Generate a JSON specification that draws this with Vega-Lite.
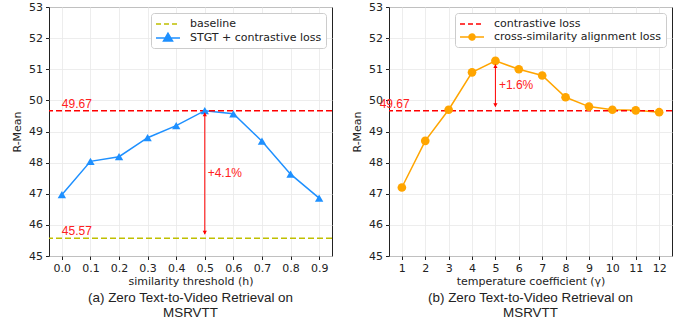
{
  "$schema": "https://vega.github.io/schema/vega-lite/v6.json",
  "padding": {"left": 11, "top": 0, "right": 5, "bottom": 5},
  "bounds": "flush",
  "spacing": 57,
  "resolve": {"scale": {"color": "independent"}, "legend": {"color": "independent"}},
  "config": {
    "font": "DejaVu Sans",
    "view": {"stroke": "#222", "strokeWidth": 1},
    "axis": {
      "gridColor": "#e8e8e8", "gridWidth": 0.8,
      "domain": false, "labelOverlap": false,
      "tickColor": "#222", "tickSize": 3.5,
      "labelFontSize": 11, "labelColor": "#222", "labelPadding": 3,
      "titleFontSize": 11, "titleFontWeight": "normal", "titleColor": "#222"
    },
    "legend": {
      "orient": "top-right", "offset": 6,
      "fillColor": "white", "strokeColor": "#cccccc", "cornerRadius": 3,
      "padding": 4, "rowPadding": 1, "symbolOffset": 6, "labelOffset": 15, "labelLimit": 400,
      "labelFontSize": 11, "labelColor": "#222", "labelFont": "DejaVu Sans",
      "symbolSize": 144, "symbolStrokeWidth": 1.5
    },
    "title": {"font": "Liberation Sans", "fontSize": 13.4, "fontWeight": "normal", "color": "#222", "orient": "bottom", "anchor": "middle", "lineHeight": 15, "offset": 4}
  },
  "datasets": {
    "one": [{"k": 1}],
    "stgt": [
      {"h": 0.0, "r": 46.97}, {"h": 0.1, "r": 48.04}, {"h": 0.2, "r": 48.19},
      {"h": 0.3, "r": 48.8}, {"h": 0.4, "r": 49.19}, {"h": 0.5, "r": 49.67},
      {"h": 0.6, "r": 49.57}, {"h": 0.7, "r": 48.69}, {"h": 0.8, "r": 47.63},
      {"h": 0.9, "r": 46.86}
    ],
    "csa": [
      {"g": 1, "r": 47.2}, {"g": 2, "r": 48.7}, {"g": 3, "r": 49.7},
      {"g": 4, "r": 50.9}, {"g": 5, "r": 51.27}, {"g": 6, "r": 51.0},
      {"g": 7, "r": 50.8}, {"g": 8, "r": 50.1}, {"g": 9, "r": 49.8},
      {"g": 10, "r": 49.7}, {"g": 11, "r": 49.68}, {"g": 12, "r": 49.62}
    ],
    "lblA": [
      {"x": 0.0, "y": 49.76, "t": "49.67"},
      {"x": 0.0, "y": 45.66, "t": "45.57"},
      {"x": 0.51, "y": 47.55, "t": "+4.1%"}
    ],
    "lblB": [
      {"x": 0.05, "y": 49.76, "t": "49.67"},
      {"x": 5.15, "y": 50.38, "t": "+1.6%"}
    ]
  },
  "hconcat": [
    {
      "width": 283, "height": 249,
      "title": {"text": ["(a) Zero Text-to-Video Retrieval on", "MSRVTT"]},
      "layer": [
        {
          "data": {"name": "stgt"},
          "mark": {"type": "line", "strokeWidth": 1.5},
          "encoding": {
            "x": {"field": "h", "type": "quantitative",
              "scale": {"domain": [-0.045, 0.945], "nice": false, "zero": false},
              "axis": {"values": [0, 0.1, 0.2, 0.3, 0.4, 0.5, 0.6, 0.7, 0.8, 0.9], "tickCount": 10, "format": ".1f", "title": "similarity threshold (h)", "titlePadding": 2}},
            "y": {"field": "r", "type": "quantitative",
              "scale": {"domain": [45, 53], "nice": false, "zero": false},
              "axis": {"values": [45, 46, 47, 48, 49, 50, 51, 52, 53], "tickCount": 9, "title": "R-Mean", "titlePadding": 6}},
            "color": {"datum": "STGT + contrastive loss", "type": "nominal",
              "scale": {"domain": ["baseline", "STGT + contrastive loss"], "range": ["#bfbf00", "#1e90ff"]},
              "legend": {"title": null,
                "encode": {"symbols": {"update": {
                  "shape": {"signal": "datum.value === 'baseline' ? 'M-2,0H2' : 'M-2,0H2M0,-0.8L0.75,0.5L-0.75,0.5Z'"},
                  "strokeDash": {"signal": "datum.value === 'baseline' ? [5,3] : [1,0]"},
                  "fill": {"signal": "datum.value === 'baseline' ? 'transparent' : '#1e90ff'"},
                  "fillOpacity": {"value": 1},
                  "stroke": {"signal": "datum.value === 'baseline' ? '#bfbf00' : '#1e90ff'"},
                  "strokeWidth": {"value": 1.5}
                }}}}}
          }
        },
        {
          "data": {"name": "one"},
          "mark": {"type": "rule", "strokeDash": [6, 3], "strokeWidth": 1.5},
          "encoding": {
            "y": {"datum": 45.57, "type": "quantitative",
              "axis": {"values": [45, 46, 47, 48, 49, 50, 51, 52, 53], "tickCount": 9, "title": "R-Mean", "titlePadding": 6}},
            "color": {"datum": "baseline", "type": "nominal"}
          }
        },
        {
          "data": {"name": "one"},
          "mark": {"type": "rule", "strokeDash": [6, 3], "strokeWidth": 1.5, "color": "#ff0000"},
          "encoding": {"y": {"datum": 49.67, "type": "quantitative",
              "axis": {"values": [45, 46, 47, 48, 49, 50, 51, 52, 53], "tickCount": 9, "title": "R-Mean", "titlePadding": 6}}}
        },
        {
          "data": {"name": "stgt"},
          "mark": {"type": "point", "shape": "triangle-up", "filled": true, "size": 70, "opacity": 1},
          "encoding": {
            "x": {"field": "h", "type": "quantitative",
              "axis": {"values": [0, 0.1, 0.2, 0.3, 0.4, 0.5, 0.6, 0.7, 0.8, 0.9], "tickCount": 10, "format": ".1f", "title": "similarity threshold (h)", "titlePadding": 2}},
            "y": {"field": "r", "type": "quantitative",
              "axis": {"values": [45, 46, 47, 48, 49, 50, 51, 52, 53], "tickCount": 9, "title": "R-Mean", "titlePadding": 6}},
            "color": {"datum": "STGT + contrastive loss", "type": "nominal"}
          }
        },
        {
          "data": {"name": "one"},
          "mark": {"type": "rule", "color": "#ff0000", "strokeWidth": 1},
          "encoding": {
            "x": {"datum": 0.5, "type": "quantitative",
              "axis": {"values": [0, 0.1, 0.2, 0.3, 0.4, 0.5, 0.6, 0.7, 0.8, 0.9], "tickCount": 10, "format": ".1f", "title": "similarity threshold (h)", "titlePadding": 2}},
            "y": {"datum": 45.7, "type": "quantitative",
              "axis": {"values": [45, 46, 47, 48, 49, 50, 51, 52, 53], "tickCount": 9, "title": "R-Mean", "titlePadding": 6}},
            "y2": {"datum": 49.6}
          }
        },
        {
          "data": {"name": "one"},
          "mark": {"type": "point", "shape": "triangle-up", "filled": true, "size": 18, "color": "#ff0000", "opacity": 1},
          "encoding": {
            "x": {"datum": 0.5, "type": "quantitative",
              "axis": {"values": [0, 0.1, 0.2, 0.3, 0.4, 0.5, 0.6, 0.7, 0.8, 0.9], "tickCount": 10, "format": ".1f", "title": "similarity threshold (h)", "titlePadding": 2}},
            "y": {"datum": 49.55, "type": "quantitative",
              "axis": {"values": [45, 46, 47, 48, 49, 50, 51, 52, 53], "tickCount": 9, "title": "R-Mean", "titlePadding": 6}}}
        },
        {
          "data": {"name": "one"},
          "mark": {"type": "point", "shape": "triangle-down", "filled": true, "size": 18, "color": "#ff0000", "opacity": 1},
          "encoding": {
            "x": {"datum": 0.5, "type": "quantitative",
              "axis": {"values": [0, 0.1, 0.2, 0.3, 0.4, 0.5, 0.6, 0.7, 0.8, 0.9], "tickCount": 10, "format": ".1f", "title": "similarity threshold (h)", "titlePadding": 2}},
            "y": {"datum": 45.75, "type": "quantitative",
              "axis": {"values": [45, 46, 47, 48, 49, 50, 51, 52, 53], "tickCount": 9, "title": "R-Mean", "titlePadding": 6}}}
        },
        {
          "data": {"name": "lblA"},
          "mark": {"type": "text", "font": "Liberation Sans", "fontSize": 12, "color": "#ff2020", "align": "left", "baseline": "alphabetic"},
          "encoding": {
            "x": {"field": "x", "type": "quantitative",
              "axis": {"values": [0, 0.1, 0.2, 0.3, 0.4, 0.5, 0.6, 0.7, 0.8, 0.9], "tickCount": 10, "format": ".1f", "title": "similarity threshold (h)", "titlePadding": 2}},
            "y": {"field": "y", "type": "quantitative",
              "axis": {"values": [45, 46, 47, 48, 49, 50, 51, 52, 53], "tickCount": 9, "title": "R-Mean", "titlePadding": 6}},
            "text": {"field": "t"}
          }
        }
      ]
    },
    {
      "width": 283, "height": 249,
      "title": {"text": ["(b) Zero Text-to-Video Retrieval on", "MSRVTT"]},
      "layer": [
        {
          "data": {"name": "csa"},
          "mark": {"type": "line", "strokeWidth": 1.5},
          "encoding": {
            "x": {"field": "g", "type": "quantitative",
              "scale": {"domain": [0.45, 12.55], "nice": false, "zero": false},
              "axis": {"values": [1, 2, 3, 4, 5, 6, 7, 8, 9, 10, 11, 12], "tickCount": 12, "title": "temperature coefficient (γ)", "titlePadding": 2}},
            "y": {"field": "r", "type": "quantitative",
              "scale": {"domain": [45, 53], "nice": false, "zero": false},
              "axis": {"values": [45, 46, 47, 48, 49, 50, 51, 52, 53], "tickCount": 9, "title": "R-Mean", "titlePadding": 6}},
            "color": {"datum": "cross-similarity alignment loss", "type": "nominal",
              "scale": {"domain": ["contrastive loss", "cross-similarity alignment loss"], "range": ["#ff0000", "#ffa500"]},
              "legend": {"title": null,
                "encode": {"symbols": {"update": {
                  "shape": {"signal": "datum.value === 'contrastive loss' ? 'M-2,0H2' : 'M-2,0H2M0.5,0A0.5,0.5,0,1,1,-0.5,0A0.5,0.5,0,1,1,0.5,0Z'"},
                  "strokeDash": {"signal": "datum.value === 'contrastive loss' ? [5,3] : [1,0]"},
                  "fill": {"signal": "datum.value === 'contrastive loss' ? 'transparent' : '#ffa500'"},
                  "fillOpacity": {"value": 1},
                  "stroke": {"signal": "datum.value === 'contrastive loss' ? '#ff0000' : '#ffa500'"},
                  "strokeWidth": {"value": 1.5}
                }}}}}
          }
        },
        {
          "data": {"name": "one"},
          "mark": {"type": "rule", "strokeDash": [6, 3], "strokeWidth": 1.5},
          "encoding": {
            "y": {"datum": 49.67, "type": "quantitative",
              "axis": {"values": [45, 46, 47, 48, 49, 50, 51, 52, 53], "tickCount": 9, "title": "R-Mean", "titlePadding": 6}},
            "color": {"datum": "contrastive loss", "type": "nominal"}
          }
        },
        {
          "data": {"name": "csa"},
          "mark": {"type": "point", "shape": "circle", "filled": true, "size": 75, "opacity": 1},
          "encoding": {
            "x": {"field": "g", "type": "quantitative",
              "axis": {"values": [1, 2, 3, 4, 5, 6, 7, 8, 9, 10, 11, 12], "tickCount": 12, "title": "temperature coefficient (γ)", "titlePadding": 2}},
            "y": {"field": "r", "type": "quantitative",
              "axis": {"values": [45, 46, 47, 48, 49, 50, 51, 52, 53], "tickCount": 9, "title": "R-Mean", "titlePadding": 6}},
            "color": {"datum": "cross-similarity alignment loss", "type": "nominal"}
          }
        },
        {
          "data": {"name": "one"},
          "mark": {"type": "rule", "color": "#ff0000", "strokeWidth": 1},
          "encoding": {
            "x": {"datum": 5, "type": "quantitative",
              "axis": {"values": [1, 2, 3, 4, 5, 6, 7, 8, 9, 10, 11, 12], "tickCount": 12, "title": "temperature coefficient (γ)", "titlePadding": 2}},
            "y": {"datum": 49.8, "type": "quantitative",
              "axis": {"values": [45, 46, 47, 48, 49, 50, 51, 52, 53], "tickCount": 9, "title": "R-Mean", "titlePadding": 6}},
            "y2": {"datum": 51.15}
          }
        },
        {
          "data": {"name": "one"},
          "mark": {"type": "point", "shape": "triangle-up", "filled": true, "size": 18, "color": "#ff0000", "opacity": 1},
          "encoding": {
            "x": {"datum": 5, "type": "quantitative",
              "axis": {"values": [1, 2, 3, 4, 5, 6, 7, 8, 9, 10, 11, 12], "tickCount": 12, "title": "temperature coefficient (γ)", "titlePadding": 2}},
            "y": {"datum": 51.1, "type": "quantitative",
              "axis": {"values": [45, 46, 47, 48, 49, 50, 51, 52, 53], "tickCount": 9, "title": "R-Mean", "titlePadding": 6}}}
        },
        {
          "data": {"name": "one"},
          "mark": {"type": "point", "shape": "triangle-down", "filled": true, "size": 18, "color": "#ff0000", "opacity": 1},
          "encoding": {
            "x": {"datum": 5, "type": "quantitative",
              "axis": {"values": [1, 2, 3, 4, 5, 6, 7, 8, 9, 10, 11, 12], "tickCount": 12, "title": "temperature coefficient (γ)", "titlePadding": 2}},
            "y": {"datum": 49.85, "type": "quantitative",
              "axis": {"values": [45, 46, 47, 48, 49, 50, 51, 52, 53], "tickCount": 9, "title": "R-Mean", "titlePadding": 6}}}
        },
        {
          "data": {"name": "lblB"},
          "mark": {"type": "text", "font": "Liberation Sans", "fontSize": 12, "color": "#ff2020", "align": "left", "baseline": "alphabetic"},
          "encoding": {
            "x": {"field": "x", "type": "quantitative",
              "axis": {"values": [1, 2, 3, 4, 5, 6, 7, 8, 9, 10, 11, 12], "tickCount": 12, "title": "temperature coefficient (γ)", "titlePadding": 2}},
            "y": {"field": "y", "type": "quantitative",
              "axis": {"values": [45, 46, 47, 48, 49, 50, 51, 52, 53], "tickCount": 9, "title": "R-Mean", "titlePadding": 6}},
            "text": {"field": "t"}
          }
        }
      ]
    }
  ]
}
